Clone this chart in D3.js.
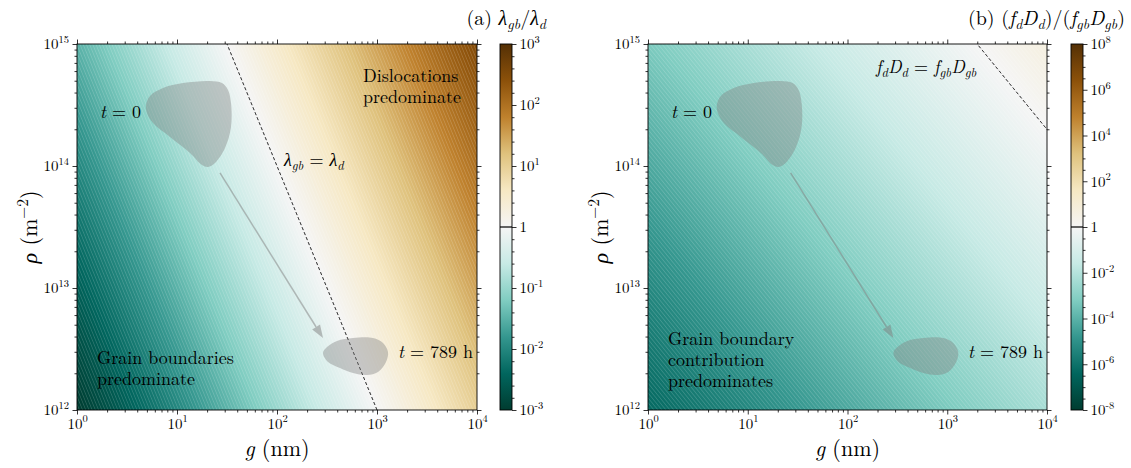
<!DOCTYPE html>
<html><head><meta charset="utf-8">
<script src="https://cdn.jsdelivr.net/npm/d3@7"></script>
<style>
body{margin:0;background:#fff}
svg{display:block}
</style>
</head><body>
<svg id="chart" width="1131" height="468"></svg>
<script>
// ---------------- data ----------------
const gTicks = [1, 10, 100, 1000, 10000];           // grain size g (nm)
const rhoTicks = [1e12, 1e13, 1e14, 1e15];          // dislocation density rho (m^-2)
// log10 of lambda_gb / lambda_d read at (rho row, g column)
const lambdaRatioLog = [
  [-3.0, -2.0, -1.0, 0.0, 1.0],
  [-2.5, -1.5, -0.5, 0.5, 1.5],
  [-2.0, -1.0, 0.0, 1.0, 2.0],
  [-1.5, -0.5, 0.5, 1.5, 2.5]
];
// log10 of (f_d D_d)/(f_gb D_gb) read at (rho row, g column)
const diffRatioLog = [
  [-6.3, -5.3, -4.3, -3.3, -2.3],
  [-5.3, -4.3, -3.3, -2.3, -1.3],
  [-4.3, -3.3, -2.3, -1.3, -0.3],
  [-3.3, -2.3, -1.3, -0.3, 0.7]
];
const cbTicksA = [-3, -2, -1, 0, 1, 2, 3];          // log10 colorbar ticks (a)
const cbTicksB = [-8, -6, -4, -2, 0, 2, 4, 6, 8];   // log10 colorbar ticks (b)
// state regions (log10 g, log10 rho)
const blobStartLogG   = [0.69,0.73,0.86,1.06,1.33,1.45,1.51,1.54,1.54,1.48,1.38,1.31,1.25,1.13,0.93,0.76,0.70];
const blobStartLogRho = [14.50,14.574,14.639,14.68,14.697,14.68,14.623,14.516,14.32,14.148,14.025,13.992,14.008,14.107,14.238,14.352,14.434];
const blobEndLogG     = [2.46,2.50,2.60,2.76,2.96,3.06,3.11,3.09,3.01,2.90,2.76,2.63,2.51];
const blobEndLogRho   = [12.467,12.516,12.566,12.59,12.59,12.549,12.475,12.393,12.311,12.287,12.303,12.344,12.393];
const arrowLogG   = [1.43, 2.46];
const arrowLogRho = [13.943, 12.59];
// BrBG (ColorBrewer 11) from brown to teal
const brbg = ["#543005","#8c510a","#bf812d","#dfc27d","#f6e8c3","#f5f5f5","#c7eae5","#80cdc1","#35978f","#01665e","#003c30"];

// ---------------- helpers ----------------
const svg = d3.select("#chart");
const defs = svg.append("defs");
const FONT = "'Latin Modern Roman', 'Liberation Serif', serif";

const cmapStops = brbg.slice().reverse(); // teal (low) -> brown (high)
const cmap = d3.scaleLinear().domain(d3.range(11).map(i => i / 10)).range(cmapStops)
  .interpolate(d3.interpolateRgb).clamp(true);
const LUT = d3.range(1024).map(i => d3.rgb(cmap(i / 1023)));

const gExp = gTicks.map(Math.log10), rExp = rhoTicks.map(Math.log10);
function fieldAt(table, lg, lr) {
  const fi = (lg - gExp[0]) / (gExp[1] - gExp[0]);
  const fj = (lr - rExp[0]) / (rExp[1] - rExp[0]);
  const i = Math.max(0, Math.min(gExp.length - 2, Math.floor(fi)));
  const j = Math.max(0, Math.min(rExp.length - 2, Math.floor(fj)));
  const tx = fi - i, ty = fj - j;
  const a = table[j][i], b = table[j][i + 1], c = table[j + 1][i], d = table[j + 1][i + 1];
  return (a * (1 - tx) + b * tx) * (1 - ty) + (c * (1 - tx) + d * tx) * ty;
}

// segments: [text, italic, mode] mode: 0 normal, 1 sub, 2 sup
function renderMath(t, segs, fs) {
  t.style("font-family", FONT).style("font-size", fs + "px").attr("fill", "#000");
  let shift = 0;
  segs.forEach(([s, it, mode]) => {
    const target = mode === 1 ? 0.22 * fs : mode === 2 ? -0.42 * fs : 0;
    const ts = t.append("tspan").text(s);
    if (it) ts.style("font-style", "italic");
    if (mode) ts.style("font-size", (0.7 * fs) + "px");
    if (target !== shift) { ts.attr("dy", target - shift); shift = target; }
  });
}

function minorLog(ticks) {
  const out = [];
  for (let k = 0; k < ticks.length - 1; k++)
    for (let m = 2; m <= 9; m++) out.push(ticks[k] * m);
  return out;
}

function drawPanel(cfg) {
  const x = d3.scaleLog().domain([gTicks[0], gTicks[gTicks.length - 1]]).range([cfg.left, cfg.right]);
  const y = d3.scaleLog().domain([rhoTicks[0], rhoTicks[rhoTicks.length - 1]]).range([cfg.bottom, cfg.top]);
  const W = cfg.right - cfg.left, H = cfg.bottom - cfg.top;

  // heat map
  const cv = document.createElement("canvas");
  cv.width = W; cv.height = H;
  const ctx = cv.getContext("2d");
  const img = ctx.createImageData(W, H);
  const [vmin, vmax] = [cfg.cbTicks[0], cfg.cbTicks[cfg.cbTicks.length - 1]];
  const dvx = fieldAt(cfg.table, Math.log10(x.invert(cfg.left + 101)), 13) - fieldAt(cfg.table, Math.log10(x.invert(cfg.left + 100)), 13);
  const dvy = fieldAt(cfg.table, 1, Math.log10(y.invert(cfg.top + 100))) - fieldAt(cfg.table, 1, Math.log10(y.invert(cfg.top + 101)));
  const grad = Math.hypot(dvx, dvy);
  for (let j = 0; j < H; j++) {
    const lr = Math.log10(y.invert(cfg.top + j + 0.5));
    for (let i = 0; i < W; i++) {
      const lg = Math.log10(x.invert(cfg.left + i + 0.5));
      const v = fieldAt(cfg.table, lg, lr);
      const t = (v - vmin) / (vmax - vmin);
      const c = LUT[Math.max(0, Math.min(1023, Math.round(t * 1023)))];
      const lv = v / cfg.step;
      const dpx = Math.abs(lv - Math.round(lv)) * cfg.step / grad;
      const a = Math.max(0, 1 - dpx / 0.8) * 0.16;
      const k = (j * W + i) * 4;
      img.data[k] = c.r + (255 - c.r) * a;
      img.data[k + 1] = c.g + (255 - c.g) * a;
      img.data[k + 2] = c.b + (255 - c.b) * a;
      img.data[k + 3] = 255;
    }
  }
  ctx.putImageData(img, 0, 0);
  const clipId = "clip" + cfg.id;
  defs.append("clipPath").attr("id", clipId).append("rect")
    .attr("x", cfg.left).attr("y", cfg.top).attr("width", W).attr("height", H);
  svg.append("image").attr("x", cfg.left).attr("y", cfg.top).attr("width", W).attr("height", H)
    .attr("preserveAspectRatio", "none").attr("href", cv.toDataURL());

  const plot = svg.append("g").attr("clip-path", `url(#${clipId})`);

  // iso-line ratio = 1 (dashed)
  const iso = [];
  const N = 600;
  for (let k = 0; k <= N; k++) {
    const lr = rExp[0] + (rExp[rExp.length - 1] - rExp[0]) * k / N;
    let lo = gExp[0], hi = gExp[gExp.length - 1];
    if (fieldAt(cfg.table, lo, lr) > 0 || fieldAt(cfg.table, hi, lr) < 0) continue;
    for (let it = 0; it < 40; it++) {
      const mid = (lo + hi) / 2;
      if (fieldAt(cfg.table, mid, lr) < 0) lo = mid; else hi = mid;
    }
    iso.push([(lo + hi) / 2, lr]);
  }
  if (iso.length && iso[0][1] > rExp[0]) {
    let lo = rExp[0], hi = iso[0][1], lgE = gExp[gExp.length - 1];
    for (let it = 0; it < 40; it++) { const mid = (lo + hi) / 2; if (fieldAt(cfg.table, lgE, mid) < 0) lo = mid; else hi = mid; }
    iso.unshift([lgE + 0.02, (lo + hi) / 2 - 0.02]);
  }
  plot.append("path").datum(iso)
    .attr("d", d3.line().x(d => x(10 ** d[0])).y(d => y(10 ** d[1])))
    .attr("fill", "none").attr("stroke", "#000").attr("stroke-width", 1).attr("stroke-dasharray", "3.2,2.2");

  // blobs
  const blobLine = d3.line().curve(d3.curveCatmullRomClosed.alpha(0.5))
    .x(d => x(10 ** d[0])).y(d => y(10 ** d[1]));
  [[blobStartLogG, blobStartLogRho], [blobEndLogG, blobEndLogRho]].forEach(([gs, rs]) => {
    plot.append("path").datum(d3.zip(gs, rs)).attr("d", blobLine)
      .attr("fill", "#808080").attr("fill-opacity", 0.4);
  });

  // arrow
  const x0 = x(10 ** arrowLogG[0]), y0 = y(10 ** arrowLogRho[0]);
  const x1 = x(10 ** arrowLogG[1]), y1 = y(10 ** arrowLogRho[1]);
  const L = Math.hypot(x1 - x0, y1 - y0), ux = (x1 - x0) / L, uy = (y1 - y0) / L;
  const hl = 13, hw = 4.6;
  const bx = x1 - ux * hl, by = y1 - uy * hl;
  const arrowG = plot.append("g").attr("opacity", 0.5);
  arrowG.append("line").attr("x1", x0).attr("y1", y0).attr("x2", bx).attr("y2", by)
    .attr("stroke", "#808080").attr("stroke-width", 1.5);
  arrowG.append("path")
    .attr("d", `M${x1},${y1}L${bx - uy * hw},${by + ux * hw}L${bx + uy * hw},${by - ux * hw}Z`)
    .attr("fill", "#808080");

  // spines
  svg.append("rect").attr("x", cfg.left).attr("y", cfg.top).attr("width", W).attr("height", H)
    .attr("fill", "none").attr("stroke", "#000").attr("stroke-width", 0.9);

  // axes
  const gMinor = minorLog(gTicks), rMinor = minorLog(rhoTicks);
  function axis(gen, tf, vals, size, showLabels) {
    const a = svg.append("g").attr("transform", tf)
      .call(gen.tickValues(vals).tickSize(size).tickPadding(3.5).tickFormat(showLabels ? (d => d) : ""));
    a.select(".domain").remove();
    a.selectAll(".tick line").attr("stroke", "#000").attr("stroke-width", 0.8);
    if (showLabels) a.selectAll(".tick text").each(function (d) {
      const t = d3.select(this).text(null);
      renderMath(t, [["10", false, 0], [String(Math.round(Math.log10(d))), false, 2]], 15);
    });
    else a.selectAll(".tick text").remove();
    return a;
  }
  axis(d3.axisBottom(x), `translate(0,${cfg.bottom})`, gTicks, 4.5, true);
  axis(d3.axisBottom(x), `translate(0,${cfg.bottom})`, gMinor, 2.5, false);
  axis(d3.axisTop(x), `translate(0,${cfg.top})`, gTicks, 4.5, false);
  axis(d3.axisTop(x), `translate(0,${cfg.top})`, gMinor, 2.5, false);
  axis(d3.axisLeft(y), `translate(${cfg.left},0)`, rhoTicks, 4.5, true);
  axis(d3.axisLeft(y), `translate(${cfg.left},0)`, rMinor, 2.5, false);
  axis(d3.axisRight(y), `translate(${cfg.right},0)`, rhoTicks, 4.5, false);
  axis(d3.axisRight(y), `translate(${cfg.right},0)`, rMinor, 2.5, false);

  // axis labels
  const xl = svg.append("text").attr("x", (cfg.left + cfg.right) / 2).attr("y", 456)
    .attr("text-anchor", "middle");
  renderMath(xl, [["g", true, 0], [" (nm)", false, 0]], 22);
  const yl = svg.append("text").attr("transform", `translate(${cfg.left - 40},${(cfg.top + cfg.bottom) / 2}) rotate(-90)`)
    .attr("text-anchor", "middle");
  renderMath(yl, [["ρ", true, 0], [" (m", false, 0], ["−2", false, 2], [")", false, 0]], 22);

  // colorbar
  const gid = "grad" + cfg.id;
  const lgd = defs.append("linearGradient").attr("id", gid).attr("x1", 0).attr("y1", 1).attr("x2", 0).attr("y2", 0);
  cmapStops.forEach((c, i) => lgd.append("stop").attr("offset", i / 10).attr("stop-color", c));
  const cy = d3.scaleLinear().domain([vmin, vmax]).range([cfg.bottom, cfg.top]);
  svg.append("rect").attr("x", cfg.cbX).attr("y", cfg.top).attr("width", cfg.cbW).attr("height", H)
    .attr("fill", `url(#${gid})`).attr("stroke", "#000").attr("stroke-width", 0.9);
  svg.append("line").attr("x1", cfg.cbX).attr("x2", cfg.cbX + cfg.cbW).attr("y1", cy(0)).attr("y2", cy(0))
    .attr("stroke", "#000").attr("stroke-width", 1.2);
  const cbMinor = d3.range(vmin, vmax + 1e-9, cfg.cbMinorStep).filter(v => !cfg.cbTicks.includes(Math.round(v * 1000) / 1000));
  const ca = svg.append("g").attr("transform", `translate(${cfg.cbX + cfg.cbW},0)`)
    .call(d3.axisRight(cy).tickValues(cfg.cbTicks).tickSize(4.5).tickPadding(3));
  ca.select(".domain").remove();
  ca.selectAll(".tick line").attr("stroke", "#000").attr("stroke-width", 0.8);
  ca.selectAll(".tick text").each(function (d) {
    const t = d3.select(this).text(null);
    if (d === 0) renderMath(t, [["1", false, 0]], 15);
    else renderMath(t, [["10", false, 0], [d < 0 ? "-" + Math.abs(d) : String(d), false, 2]], 15);
  });
  const cm = svg.append("g").attr("transform", `translate(${cfg.cbX + cfg.cbW},0)`)
    .call(d3.axisRight(cy).tickValues(cbMinor).tickSize(2.5).tickFormat(""));
  cm.select(".domain").remove();
  cm.selectAll(".tick text").remove();
  cm.selectAll(".tick line").attr("stroke", "#000").attr("stroke-width", 0.8);

  // title
  const tt = svg.append("text").attr("x", cfg.titleX).attr("y", 25).attr("text-anchor", "end");
  renderMath(tt, cfg.title, 20);

  // annotations (multi-line notes are one text element with one tspan per line)
  cfg.notes.forEach(n => {
    const t = svg.append("text").attr("x", cfg.left + n.dx).attr("y", cfg.top + n.dy);
    if (n.lines.length === 1) renderMath(t, n.lines[0], 18);
    else {
      t.style("font-family", FONT).style("font-size", "18px").attr("fill", "#000");
      n.lines.forEach((segs, i) => t.append("tspan").attr("x", cfg.left + n.dx).attr("dy", i ? 21 : 0)
        .text(segs.map(s => s[0]).join("")));
    }
  });
}

const SUB = 1;
drawPanel({
  id: "a", left: 77, right: 477, top: 44, bottom: 410, cbX: 500, cbW: 12, cbMinorStep: 0.2,
  table: lambdaRatioLog, cbTicks: cbTicksA, step: 0.032, titleX: 546,
  title: [["(a) ", false, 0], ["λ", true, 0], ["gb", true, SUB], ["/", false, 0], ["λ", true, 0], ["d", true, SUB]],
  notes: [
    { dx: 23, dy: 74, lines: [[["t", true, 0], [" = 0", false, 0]]] },
    { dx: 207, dy: 122, lines: [[["λ", true, 0], ["gb", true, SUB], [" = ", false, 0], ["λ", true, 0], ["d", true, SUB]]] },
    { dx: 286, dy: 38, lines: [[["Dislocations", false, 0]], [["predominate", false, 0]]] },
    { dx: 20, dy: 320, lines: [[["Grain boundaries", false, 0]], [["predominate", false, 0]]] },
    { dx: 321, dy: 314, lines: [[["t", true, 0], [" = 789 h", false, 0]]] }
  ]
});

drawPanel({
  id: "b", left: 648, right: 1047, top: 44, bottom: 410, cbX: 1071, cbW: 12, cbMinorStep: 0.5,
  table: diffRatioLog, cbTicks: cbTicksB, step: 0.04, titleX: 1125,
  title: [["(b) (", false, 0], ["f", true, 0], ["d", true, SUB], ["D", true, 0], ["d", true, SUB], [")/(", false, 0],
          ["f", true, 0], ["gb", true, SUB], ["D", true, 0], ["gb", true, SUB], [")", false, 0]],
  notes: [
    { dx: 228, dy: 29, lines: [[["f", true, 0], ["d", true, SUB], ["D", true, 0], ["d", true, SUB], [" = ", false, 0],
                                 ["f", true, 0], ["gb", true, SUB], ["D", true, 0], ["gb", true, SUB]]] },
    { dx: 23, dy: 74, lines: [[["t", true, 0], [" = 0", false, 0]]] },
    { dx: 20, dy: 301, lines: [[["Grain boundary", false, 0]], [["contribution", false, 0]], [["predominates", false, 0]]] },
    { dx: 320, dy: 314, lines: [[["t", true, 0], [" = 789 h", false, 0]]] }
  ]
});
</script>
</body></html>
